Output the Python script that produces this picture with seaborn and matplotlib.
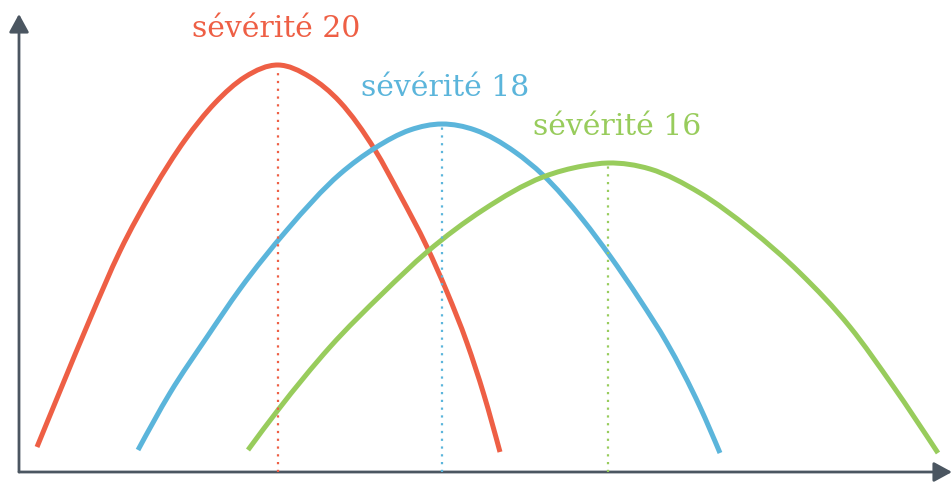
import matplotlib
matplotlib.use("Agg")
import matplotlib.pyplot as plt
import numpy as np
import seaborn as sns
from matplotlib.patches import FancyArrowPatch, PathPatch
from matplotlib.path import Path

# curve samples (x from the vertical axis, y above the horizontal axis)
red_x = [18, 41, 71, 101, 134, 166, 196, 226, 259, 291, 321, 356, 381, 408, 428, 448, 465, 481]
red_y = [25, 81, 153, 221, 282, 332, 369, 395, 407, 395, 370, 322, 277, 225, 180, 129, 77, 20]

blue_x = [119, 151, 188, 221, 268, 321, 356, 391, 423, 456, 496, 524, 564, 591, 621, 648, 681, 701]
blue_y = [22, 79, 135, 183, 242, 298, 324, 342, 348, 342, 320, 297, 252, 216, 172, 129, 65, 19]

green_x = [229, 259, 311, 364, 408, 464, 524, 564, 589, 631, 681, 731, 781, 831, 874, 919]
green_y = [22, 62, 125, 179, 220, 262, 295, 306, 309, 303, 279, 243, 199, 145, 86, 19]

labels = ["sévérité 20", "sévérité 18", "sévérité 16"]
colors = ["#EE5F45", "#5BB5DB", "#98CC5C"]
axis_color = "#4B5661"


def smooth_path(xs, ys):
    # cubic Hermite through the read points (slopes from neighbours), as Bezier segments
    x = np.asarray(xs, float)
    y = np.asarray(ys, float)
    h = np.diff(x)
    d = np.diff(y) / h
    m = np.empty_like(y)
    m[1:-1] = (d[:-1] * h[1:] + d[1:] * h[:-1]) / (h[:-1] + h[1:])
    m[0] = 1.5 * d[0] - 0.5 * m[1]
    m[-1] = 1.5 * d[-1] - 0.5 * m[-2]
    verts, codes = [(x[0], y[0])], [Path.MOVETO]
    for i in range(len(x) - 1):
        verts += [(x[i] + h[i] / 3, y[i] + m[i] * h[i] / 3),
                  (x[i + 1] - h[i] / 3, y[i + 1] - m[i + 1] * h[i] / 3),
                  (x[i + 1], y[i + 1])]
        codes += [Path.CURVE4] * 3
    return Path(verts, codes)


sns.set_theme(style="white")
fig = plt.figure(figsize=(9.52, 4.84), dpi=100)
ax = fig.add_axes([19 / 952, 12 / 484, 933 / 952, 458 / 484])

series = [(red_x, red_y), (blue_x, blue_y), (green_x, green_y)]
label_dx = [-2, 3, 9]
for (xs, ys), lab, col, dx in zip(series, labels, colors, label_dx):
    ax.add_patch(PathPatch(smooth_path(xs, ys), fill=False, edgecolor=col,
                           lw=3.6, capstyle="butt", joinstyle="round"))
    i = ys.index(max(ys))
    px, py = xs[i], ys[i]
    ax.vlines(px, 0, py - 3, colors=col, linestyles=(0, (1, 2.5)), linewidth=1.6)
    ax.text(px + dx, py + 28, lab, color=col, ha="center", va="baseline",
            fontsize=21.5, family="DejaVu Serif")

ax.set_xlim(0, 933)
ax.set_ylim(0, 458)
ax.set_xticks([])
ax.set_yticks([])
for sp in ax.spines.values():
    sp.set_visible(False)

arrow_kw = dict(arrowstyle="-|>,head_length=0.55,head_width=0.3", mutation_scale=20,
                color=axis_color, lw=2.0, shrinkA=0, shrinkB=0, clip_on=False)
ax.add_patch(FancyArrowPatch((0, 0), (933, 0), **arrow_kw))
ax.add_patch(FancyArrowPatch((0, 0), (0, 458), **arrow_kw))

fig.savefig("out.png", dpi=100)
